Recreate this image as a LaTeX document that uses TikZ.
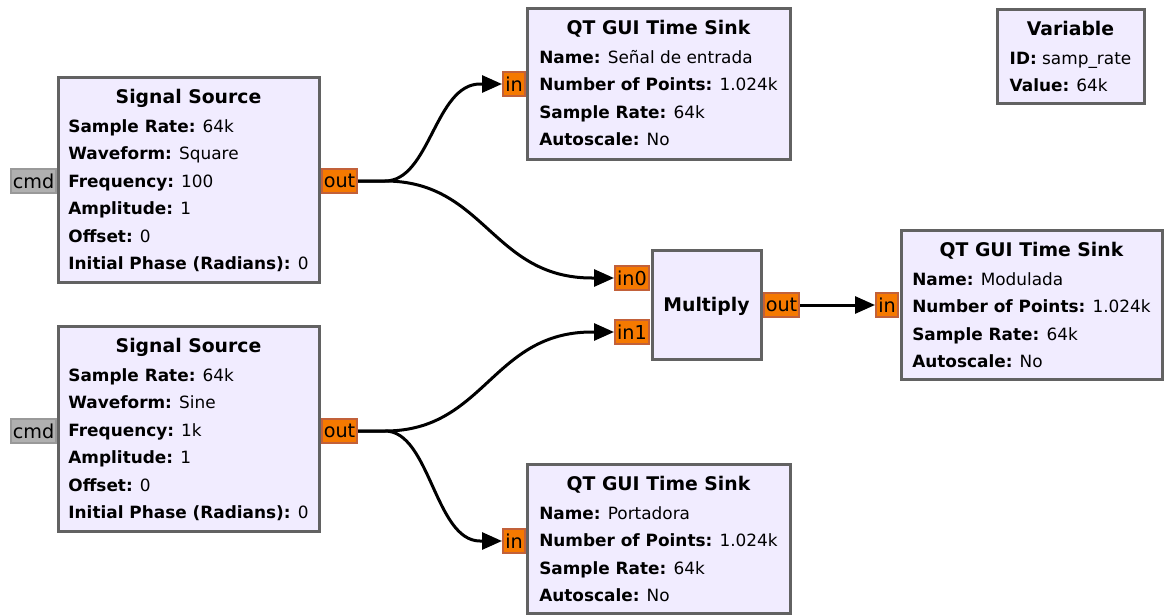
\documentclass[tikz,border=0pt]{standalone}
\usepackage{fontspec}
\setmainfont{DejaVu Sans}
\usetikzlibrary{arrows.meta,fit}
\definecolor{blkfill}{HTML}{F1ECFF}
\definecolor{blkdraw}{HTML}{626262}
\definecolor{portfill}{HTML}{F57900}
\definecolor{portdraw}{HTML}{C2613A}
\definecolor{cmdfill}{HTML}{B0B0B0}
\definecolor{cmddraw}{HTML}{999999}
\newcommand\grcfont{\fontsize{8.45}{13.75}\selectfont}
\newcommand\grctitle{\fontsize{9.4}{13.75}\selectfont\bfseries}
\newcommand\grcport{\fontsize{9.6}{13.75}\selectfont}
\tikzset{
  blockbox/.style={draw=blkdraw, fill=blkfill, line width=1.5pt, inner sep=0pt},
  port/.style={draw=portdraw, fill=portfill, line width=1pt, inner sep=0pt, minimum height=12pt, font=\grcport},
  cmdport/.style={draw=cmddraw, fill=cmdfill, line width=1pt, inner sep=0pt, minimum height=12pt, minimum width=22.5pt, font=\grcport},
  conn/.style={line width=1.5pt, -{Triangle[length=10pt,width=8.5pt]}}
}
\newcommand\grcblock[7]{%
  \node[blockbox, fit={(#2,#3) (#4,#5)}] (#1) {};
  \node[anchor=base, font=\grctitle, inner sep=0pt] (#1-t) at ({(#2+#4)/2},{#3+26.5}) {#6};
  \node[anchor=base, font=\grcfont, inner sep=0pt] (#1-b) at ({(#2+#4)/2},{#3+55}) {\begin{tabular}[t]{@{}l@{}}#7\end{tabular}};
}
\begin{document}
\begin{tikzpicture}[x=0.5pt, y=-0.5pt]
\fill[white] (0,0) rectangle (1169,616);
\useasboundingbox (0,0) rectangle (1169,616);

% ports
\node[cmdport] (ss1c) at (33.5,181) {cmd};
\node[port, minimum width=17.5pt] (ss1o) at (339.5,181) {out};
\node[cmdport] (ss2c) at (33.5,431) {cmd};
\node[port, minimum width=17.5pt] (ss2o) at (339.5,431) {out};
\node[port, minimum width=11pt] (s1i) at (514,84) {in};
\node[port, minimum width=17pt] (m0) at (632,278) {in0};
\node[port, minimum width=17pt] (m1) at (632,332) {in1};
\node[port, minimum width=17.5pt] (mo) at (781.5,305) {out};
\node[port, minimum width=11pt] (s2i) at (887,305) {in};
\node[port, minimum width=11pt] (s3i) at (514,541) {in};

% blocks
\grcblock{ss1}{58}{77}{319}{282}{Signal Source}{%
  \textbf{Sample Rate:} 64k\\
  \textbf{Waveform:} Square\\
  \textbf{Frequency:} 100\\
  \textbf{Amplitude:} 1\\
  \textbf{Offset:} 0\\
  \textbf{Initial Phase (Radians):} 0}
\grcblock{ss2}{58}{326}{319}{531}{Signal Source}{%
  \textbf{Sample Rate:} 64k\\
  \textbf{Waveform:} Sine\\
  \textbf{Frequency:} 1k\\
  \textbf{Amplitude:} 1\\
  \textbf{Offset:} 0\\
  \textbf{Initial Phase (Radians):} 0}
\grcblock{s1}{527}{8}{790}{159}{QT GUI Time Sink}{%
  \textbf{Name:} Señal de entrada\\
  \textbf{Number of Points:} 1.024k\\
  \textbf{Sample Rate:} 64k\\
  \textbf{Autoscale:} No}
\grcblock{s2}{901}{230}{1162}{379}{QT GUI Time Sink}{%
  \textbf{Name:} Modulada\\
  \textbf{Number of Points:} 1.024k\\
  \textbf{Sample Rate:} 64k\\
  \textbf{Autoscale:} No}
\grcblock{s3}{527}{464}{790}{613}{QT GUI Time Sink}{%
  \textbf{Name:} Portadora\\
  \textbf{Number of Points:} 1.024k\\
  \textbf{Sample Rate:} 64k\\
  \textbf{Autoscale:} No}
\grcblock{var}{997}{9}{1144}{103}{Variable}{%
  \textbf{ID:} samp\_rate\\
  \textbf{Value:} 64k}
\node[blockbox, fit={(652,250) (761,359)}] (mul) {};
\node[anchor=base, font=\grctitle, inner sep=0pt] (mul-t) at (706.5,311.5) {Multiply};

% connections
\draw[conn] (ss1o.east) -- ++(27,0) .. controls +(45,0) and +(-45,0) .. ([xshift=-11pt]s1i.west) -- (s1i.west);
\draw[conn] (ss1o.east) -- ++(27,0) .. controls +(100,0) and +(-100,0) .. ([xshift=-11pt]m0.west) -- (m0.west);
\draw[conn] (ss2o.east) -- ++(27,0) .. controls +(100,0) and +(-100,0) .. ([xshift=-11pt]m1.west) -- (m1.west);
\draw[conn] (ss2o.east) -- ++(27,0) .. controls +(45,0) and +(-45,0) .. ([xshift=-11pt]s3i.west) -- (s3i.west);
\draw[conn] (mo.east) -- (s2i.west);
\end{tikzpicture}
\end{document}
